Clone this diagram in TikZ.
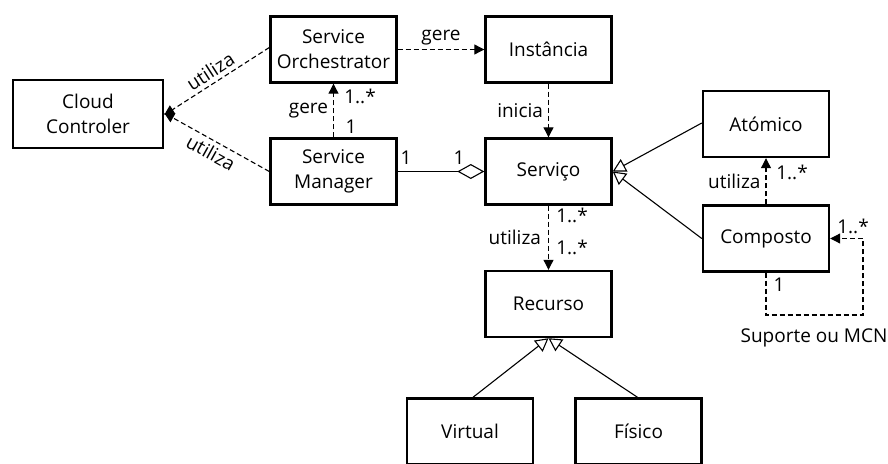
\documentclass[tikz,border=0pt]{standalone}
\usepackage{fontspec}
\setmainfont{Open Sans}
\usetikzlibrary{arrows.meta}
\tikzset{
  cls/.style={draw, line width=2.4pt, minimum width=126pt, minimum height=66pt,
              align=center, inner sep=2pt, font=\fontsize{19}{25}\selectfont},
  dep/.style={line width=1.1pt, dash pattern=on 5pt off 3pt,
              -{Triangle[length=10pt, width=10pt]}},
  gen/.style={line width=1.1pt, -{Triangle[open, length=13pt, width=14pt, line width=1.1pt]}},
  agg/.style={line width=1.1pt, -{Diamond[open, length=27pt, width=15pt, line width=1.1pt]}},
  lbl/.style={font=\fontsize{19}{21}\selectfont, inner sep=1pt},
}
\begin{document}
\begin{tikzpicture}[x=1pt, y=-1pt]
\useasboundingbox (0,0) rectangle (888,463);
\clip (0,0) rectangle (888,463);

% classes
\node[cls, minimum width=150pt, minimum height=68pt] (cloud) at (88,114) {Cloud\\Controler};
\node[cls] (orch) at (333.5,49.5) {Service\\Orchestrator};
\node[cls] (inst) at (548.5,49.5) {Instância};
\node[cls] (mgr)  at (333.5,171.5) {Service\\Manager};
\node[cls] (serv) at (548.5,171.5) {Serviço};
\node[cls] (rec)  at (548.5,304) {Recurso};
\node[cls] (virt) at (470,431.5) {Virtual};
\node[cls] (fis)  at (638.5,431.5) {Físico};
\node[cls] (atom) at (766,124) {Atómico};
\node[cls] (comp) at (766,238.5) {Composto};

% dependencies on the cloud controller
\draw[dep] ([yshift=2pt]orch.west) -- node[lbl, sloped, above=3pt] {utiliza} ([yshift=-1pt]cloud.east);
\draw[dep] (mgr.west) -- node[lbl, sloped, below=3pt] {utiliza} ([yshift=1pt]cloud.east);

% orchestrator and instances
\draw[dep] (orch.east) -- node[lbl, above=3pt] {gere} (inst.west);
\draw[dep] (inst.south) -- node[lbl, left=4pt] {inicia} (serv.north);

% manager manages orchestrator
\draw[dep] (mgr.north) -- node[lbl, left=4pt] {gere} (orch.south);
\node[lbl] (m1) at (360,96) {1..*};
\node[lbl] (m2) at (351,127) {1};

% aggregation manager - service
\draw[agg] (mgr.east) -- (serv.west);
\node[lbl] (a1) at (406,158) {1};
\node[lbl] (a2) at (459,158) {1};

% service uses resources
\draw[dep] (serv.south) -- node[lbl, left=6pt] {utiliza} (rec.north);
\node[lbl] (r1) at (572,215) {1..*};
\node[lbl] (r2) at (572,247) {1..*};

% generalisations of the service
\draw[gen] ([yshift=1pt]atom.west) -- (serv.east);
\draw[gen] (comp.west) -- (serv.east);

% composite uses atomic
\draw[dep] (comp.north) -- node[lbl, left=4pt] {utiliza} (atom.south);
\node[lbl] (c1) at (792,172) {1..*};

% composite self association
\coordinate (lp) at (863,315);
\draw[dep] (comp.south) |- (lp) |- (comp.east);
\node[lbl] (s1) at (779,285) {1};
\node[lbl] (s2) at (853,226) {1..*};
\node[lbl] (s3) at (814,338) {Suporte ou MCN};

% generalisations of the resource
\draw[gen] ([xshift=3pt]virt.north) -- (rec.south);
\draw[gen] ([xshift=-1pt]fis.north) -- (rec.south);
\end{tikzpicture}
\end{document}
